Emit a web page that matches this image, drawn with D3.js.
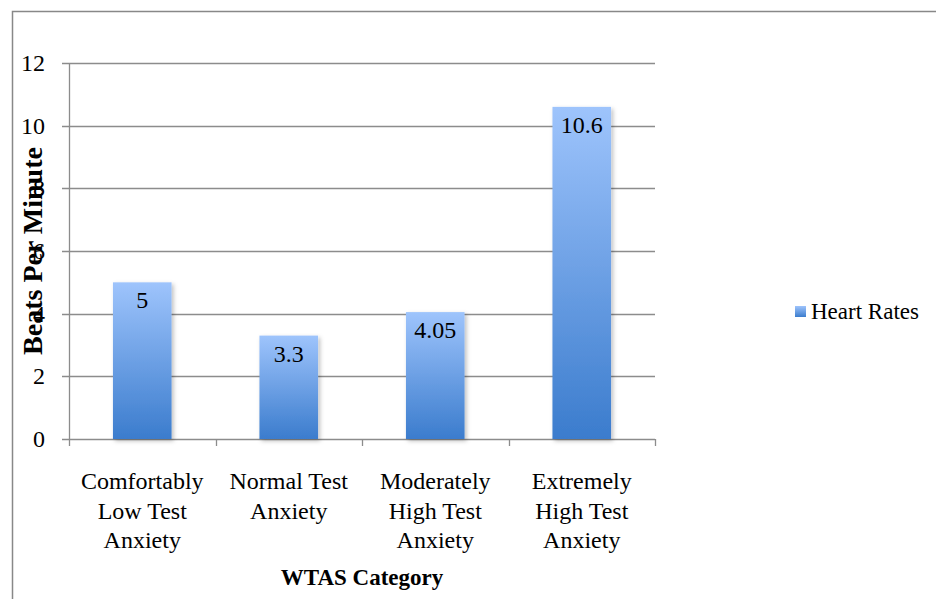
<!DOCTYPE html>
<html>
<head>
<meta charset="utf-8">
<script src="https://cdn.jsdelivr.net/npm/d3@7"></script>
<style>
  body { margin: 0; background: #fff; }
  text { font-family: "Liberation Serif", "Times New Roman", serif; fill: #000; }
</style>
</head>
<body>
<svg id="chart" width="936" height="599"></svg>
<script>
const categories = [
  ["Comfortably", "Low Test", "Anxiety"],
  ["Normal Test", "Anxiety"],
  ["Moderately", "High Test", "Anxiety"],
  ["Extremely", "High Test", "Anxiety"]
];
const heartRates = [5, 3.3, 4.05, 10.6];
const yTicks = [0, 2, 4, 6, 8, 10, 12];
const seriesName = "Heart Rates";

const svg = d3.select("#chart");
const margin = { left: 69, right: 655, top: 63, bottom: 439 };

const defs = svg.append("defs");
const grad = defs.append("linearGradient")
  .attr("id", "barGrad")
  .attr("x1", 0).attr("y1", 0).attr("x2", 0).attr("y2", 1);
grad.append("stop").attr("offset", "0%").attr("stop-color", "#9ec4fc");
grad.append("stop").attr("offset", "100%").attr("stop-color", "#3b7ccd");
const shadow = defs.append("filter").attr("id", "shadow")
  .attr("x", "-20%").attr("y", "-5%").attr("width", "150%").attr("height", "115%");
shadow.append("feDropShadow")
  .attr("dx", 2).attr("dy", 2).attr("stdDeviation", 2)
  .attr("flood-color", "#000").attr("flood-opacity", 0.25);

// outer frame
svg.append("rect")
  .attr("x", 12.5).attr("y", 11.5)
  .attr("width", 940).attr("height", 600)
  .attr("fill", "none").attr("stroke", "#888").attr("stroke-width", 1.5);

const x = d3.scaleBand()
  .domain(d3.range(categories.length))
  .range([margin.left, margin.right])
  .paddingInner(0.6).paddingOuter(0.3);

const y = d3.scaleLinear().domain([0, 12]).range([margin.bottom, margin.top]);

// gridlines
svg.append("g")
  .selectAll("line")
  .data(yTicks)
  .enter()
  .append("line")
  .attr("x1", margin.left - 7)
  .attr("x2", margin.right)
  .attr("y1", (d) => Math.round(y(d)) + 0.5)
  .attr("y2", (d) => Math.round(y(d)) + 0.5)
  .attr("stroke", "#8c8c8c")
  .attr("stroke-width", 1.3);

// y axis line
svg.append("line")
  .attr("x1", margin.left + 0.5).attr("x2", margin.left + 0.5)
  .attr("y1", margin.top).attr("y2", margin.bottom + 7)
  .attr("stroke", "#8c8c8c").attr("stroke-width", 1.3);

// x tick marks between categories
const xTickPos = d3.range(categories.length + 1).map(
  (i) => margin.left + (i * (margin.right - margin.left)) / categories.length
);
svg.append("g")
  .selectAll("line")
  .data(xTickPos.slice(1))
  .enter()
  .append("line")
  .attr("x1", (d) => Math.round(d) + 0.5)
  .attr("x2", (d) => Math.round(d) + 0.5)
  .attr("y1", margin.bottom)
  .attr("y2", margin.bottom + 7)
  .attr("stroke", "#8c8c8c").attr("stroke-width", 1.3);

// y tick labels
svg.append("g")
  .selectAll("text")
  .data(yTicks)
  .enter()
  .append("text")
  .attr("x", 45)
  .attr("y", (d) => y(d) + 8)
  .attr("text-anchor", "end")
  .attr("font-size", 24)
  .text((d) => d);

// bars
svg.append("g")
  .selectAll("rect")
  .data(heartRates)
  .enter()
  .append("rect")
  .attr("x", (d, i) => x(i))
  .attr("y", (d) => y(d))
  .attr("width", x.bandwidth())
  .attr("height", (d) => y(0) - y(d))
  .attr("fill", "url(#barGrad)")
  .attr("filter", "url(#shadow)");

// value labels
svg.append("g")
  .selectAll("text")
  .data(heartRates)
  .enter()
  .append("text")
  .attr("x", (d, i) => x(i) + x.bandwidth() / 2)
  .attr("y", (d) => y(d) + 26)
  .attr("text-anchor", "middle")
  .attr("font-size", 24)
  .text((d) => d);

// category labels
const catG = svg.append("g");
categories.forEach((lines, i) => {
  const cx = x(i) + x.bandwidth() / 2;
  const t = catG.append("text")
    .attr("x", cx)
    .attr("y", 489)
    .attr("text-anchor", "middle")
    .attr("font-size", 24);
  lines.forEach((ln, j) => {
    t.append("tspan").attr("x", cx).attr("dy", j === 0 ? 0 : 29.5).text(ln);
  });
});

// axis titles
svg.append("text")
  .attr("x", (margin.left + margin.right) / 2)
  .attr("y", 585)
  .attr("text-anchor", "middle")
  .attr("font-size", 23)
  .attr("font-weight", "bold")
  .text("WTAS Category");

svg.append("text")
  .attr("transform", `translate(42,${(margin.top + margin.bottom) / 2}) rotate(-90)`)
  .attr("text-anchor", "middle")
  .attr("font-size", 28)
  .attr("font-weight", "bold")
  .text("Beats Per Minute");

// legend
const legend = svg.append("g").attr("transform", "translate(795,306)");
legend.append("rect")
  .attr("width", 11).attr("height", 11)
  .attr("fill", "url(#barGrad)");
legend.append("text")
  .attr("x", 16).attr("y", 13)
  .attr("font-size", 23)
  .text(seriesName);
</script>
</body>
</html>
